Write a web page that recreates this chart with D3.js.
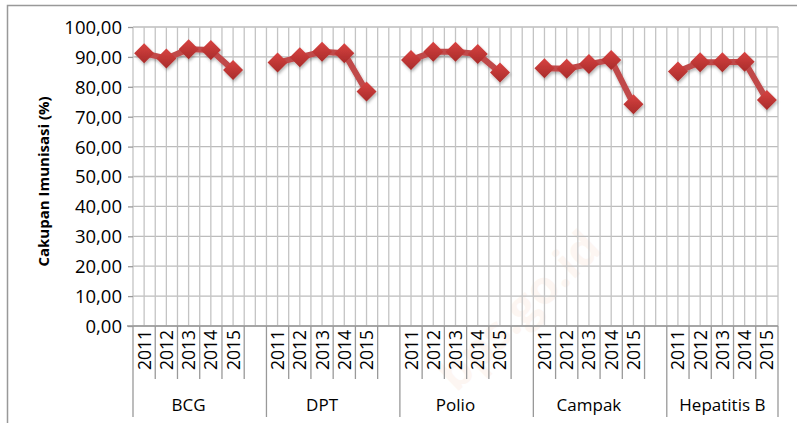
<!DOCTYPE html>
<html>
<head>
<meta charset="utf-8">
<script src="https://cdn.jsdelivr.net/npm/d3@7"></script>
<style>
  body { margin: 0; background: #fff; }
  text { font-family: "Open Sans", sans-serif; fill: #000; }
</style>
</head>
<body>
<div class="chart"></div>
<script>
// data
const groups = ["BCG", "DPT", "Polio", "Campak", "Hepatitis B"];
const years = ["2011", "2012", "2013", "2014", "2015"];
const bcg = [91.2, 89.5, 92.6, 92.3, 85.6];
const dpt = [88.1, 89.9, 91.7, 91.2, 78.4];
const polio = [89.0, 91.7, 91.7, 91.0, 84.8];
const campak = [86.2, 86.0, 87.6, 89.0, 74.2];
const hepB = [85.1, 88.2, 88.2, 88.4, 75.6];
const seriesValues = [bcg, dpt, polio, campak, hepB];
const yTicks = [0, 10, 20, 30, 40, 50, 60, 70, 80, 90, 100];

var w = 797;
var h = 423;
const pLeft = 133, pRight = 778, pTop = 27, pBottom = 326;

var svg = d3.select(".chart").append("svg")
  .attr("width", w)
  .attr("height", h);

// slots: 5 years + a blank after each group except the last
const slots = [];
groups.forEach((g, gi) => {
  years.forEach(yr => slots.push({ id: g + "-" + yr, group: g, year: yr }));
  if (gi < groups.length - 1) slots.push({ id: g + "-blank", group: g, year: null });
});

const x = d3.scaleBand().domain(slots.map(d => d.id)).range([pLeft, pRight]).paddingInner(0).paddingOuter(0);
const y = d3.scaleLinear().domain([0, 100]).range([pBottom, pTop]);
const bw = x.bandwidth();

// watermark (very faint)
svg.append("text")
  .attr("transform", "translate(530,322) rotate(-44)")
  .attr("text-anchor", "middle")
  .style("font-size", "46px")
  .style("font-weight", "bold")
  .style("fill", "#fdf6f2")
  .text("bps.go.id");

// outer chart border
svg.append("path")
  .attr("d", "M7.5,423 L7.5,5.5 L797,5.5")
  .attr("fill", "none")
  .attr("stroke", "#999")
  .attr("stroke-width", 1.5);

const grid = svg.append("g");

// horizontal gridlines
grid.selectAll("line.hg")
  .data(yTicks)
  .enter().append("line")
  .attr("x1", pLeft).attr("x2", pRight)
  .attr("y1", d => y(d)).attr("y2", d => y(d))
  .attr("stroke", "#bcbcbc")
  .attr("stroke-width", 1.3);

// vertical gridlines at slot edges and centres
const vx = [];
slots.forEach(s => { vx.push(x(s.id)); vx.push(x(s.id) + bw / 2); });
vx.push(pRight);
grid.selectAll("line.vg")
  .data(vx)
  .enter().append("line")
  .attr("x1", d => d).attr("x2", d => d)
  .attr("y1", pTop).attr("y2", pBottom)
  .attr("stroke", "#c4c4c4")
  .attr("stroke-width", 1.3);

// y axis
const yAxis = svg.append("g")
  .attr("transform", `translate(${pLeft},0)`)
  .call(d3.axisLeft(y).tickValues(yTicks).tickSize(5).tickPadding(6)
    .tickFormat(d => d3.format(".2f")(d).replace(".", ",")));
yAxis.select(".domain").remove();
yAxis.selectAll("line").attr("stroke", "#999").attr("stroke-width", 1.3);
yAxis.selectAll("text").style("font-size", "18.5px").attr("dy", "0.35em");

// x axis line
svg.append("line")
  .attr("x1", pLeft - 6).attr("x2", pRight)
  .attr("y1", pBottom).attr("y2", pBottom)
  .attr("stroke", "#999").attr("stroke-width", 1.3);

// slot boundary ticks
const edges = slots.map((s, i) => ({ x: x(s.id), long: i === 0 || s.year === "2011" }));
edges.push({ x: pRight, long: true });
svg.selectAll("line.tk")
  .data(edges)
  .enter().append("line")
  .attr("x1", d => d.x).attr("x2", d => d.x)
  .attr("y1", pBottom).attr("y2", d => d.long ? 417 : 379)
  .attr("stroke", "#999").attr("stroke-width", 1.3);

// year labels
svg.selectAll("text.yr")
  .data(slots.filter(s => s.year))
  .enter().append("text")
  .attr("transform", d => `translate(${x(d.id) + bw / 2 + 6.5},${pBottom + 4}) rotate(-90)`)
  .attr("text-anchor", "end")
  .style("font-size", "17.5px")
  .text(d => d.year);

// group labels
svg.selectAll("text.grp")
  .data(groups)
  .enter().append("text")
  .attr("x", g => (x(g + "-2011") + x(g + "-2015") + bw) / 2)
  .attr("y", 411)
  .attr("text-anchor", "middle")
  .style("font-size", "17px")
  .text(d => d);

// axis title
svg.append("text")
  .attr("transform", `translate(49,${(pTop + pBottom) / 2 + 5}) rotate(-90)`)
  .attr("text-anchor", "middle")
  .style("font-size", "15px")
  .style("font-weight", "bold")
  .text("Cakupan Imunisasi (%)");

// marker styles
const defs = svg.append("defs");
const grad = defs.append("linearGradient").attr("id", "mk").attr("x1", 0).attr("y1", 0).attr("x2", 0).attr("y2", 1);
grad.append("stop").attr("offset", "0%").attr("stop-color", "#d84341");
grad.append("stop").attr("offset", "100%").attr("stop-color", "#a82b2a");
const sh = defs.append("filter").attr("id", "sh").attr("x", "-50%").attr("y", "-50%").attr("width", "200%").attr("height", "200%");
sh.append("feDropShadow").attr("dx", 1).attr("dy", 2).attr("stdDeviation", 1.5).attr("flood-opacity", 0.3);

const line = d3.line().x(d => d.x).y(d => d.y);

groups.forEach((g, gi) => {
  const pts = years.map((yr, i) => ({ x: x(g + "-" + yr) + bw / 2, y: y(seriesValues[gi][i]) }));
  const gg = svg.append("g").attr("filter", "url(#sh)");
  gg.append("path")
    .datum(pts)
    .attr("d", line)
    .attr("fill", "none")
    .attr("stroke", "#c0484a")
    .attr("stroke-width", 6)
    .attr("stroke-linejoin", "round");
  gg.selectAll("path.mk")
    .data(pts)
    .enter().append("path")
    .attr("d", d => `M${d.x},${d.y - 10} L${d.x + 10},${d.y} L${d.x},${d.y + 10} L${d.x - 10},${d.y} Z`)
    .attr("fill", "url(#mk)");
});
</script>
</body>
</html>
